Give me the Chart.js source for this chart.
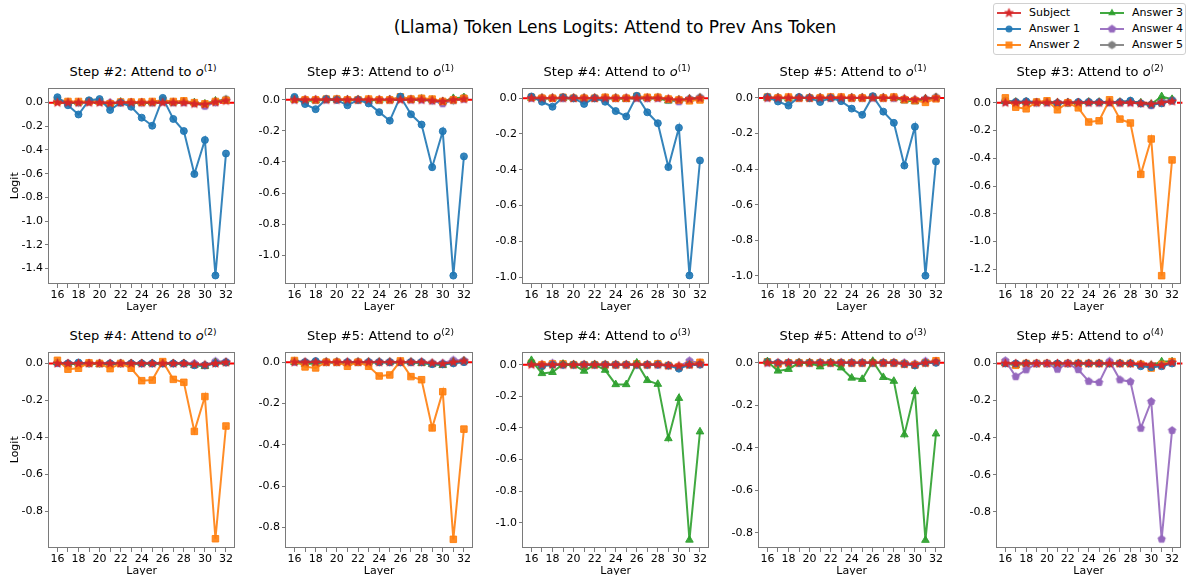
<!DOCTYPE html>
<html>
<head>
<meta charset="utf-8">
<script src="https://cdn.jsdelivr.net/npm/chart.js@4.4.1/dist/chart.umd.min.js"></script>
<style>
  html, body { margin: 0; padding: 0; background: #fff; }
  body { width: 1187px; height: 575px; position: relative; overflow: hidden;
         font-family: "DejaVu Sans", sans-serif; color: #000; }
  canvas.panel { position: absolute; }
  .ptitle { position: absolute; font-size: 13px; white-space: nowrap; transform: translate(-50%, -50%); line-height: 1; }
  .ptitle sup { font-size: 9px; vertical-align: 5px; line-height: 0; }
  #mainTitle { position: absolute; left: 615px; top: 27px; transform: translate(-50%, -50%);
               font-size: 17px; white-space: nowrap; }
  #legend { position: absolute; left: 993px; top: 3px; width: 191px; height: 50px;
            border: 1px solid #d0d0d0; border-radius: 3px; background: #fff; }
  .lg { position: absolute; font-size: 11px; white-space: nowrap; line-height: 1; }
  .lg canvas { position: absolute; }
</style>
</head>
<body>
<div id="mainTitle">(Llama) Token Lens Logits: Attend to Prev Ans Token</div>
<div id="legend"></div>
<script>
// Layers on the x axis
const layers = [16, 17, 18, 19, 20, 21, 22, 23, 24, 25, 26, 27, 28, 29, 30, 31, 32];

// One panel per (step, attended answer)
const stepNums   = [2, 3, 4, 5, 3, 4, 5, 4, 5, 5];
const attendIdx  = [1, 1, 1, 1, 2, 2, 2, 3, 3, 4];

// y-axis limits of each panel
const yLow  = [-1.532, -1.186, -1.038, -1.045, -1.306, -0.997, -0.899, -1.160, -0.872, -0.995];
const yHigh = [ 0.127,  0.079,  0.059,  0.058,  0.109,  0.064,  0.051,  0.083,  0.053,  0.064];

// Logit change per layer; one row per panel
const subject = [
  [0, 0, 0, 0, 0, -0.005, 0, 0, 0, 0, 0, 0, 0, -0.01, -0.015, 0.005, 0.015],
  [0, 0, 0, 0, 0, 0, 0, 0, 0, 0, 0, 0, 0, -0.005, -0.01, 0, 0.005],
  [0, 0, 0, 0, 0, 0, 0, 0, 0, 0, 0, 0, 0, -0.005, -0.01, -0.005, 0],
  [0, 0, 0, 0, 0, 0, 0, 0, 0, 0, 0, 0, 0, -0.005, -0.01, -0.005, 0],
  [0, 0, 0, 0, 0, 0, 0, 0, 0, 0, 0, 0, 0, -0.005, -0.01, 0, 0.01],
  [0, 0, 0, 0, 0, 0, 0, 0, 0, 0, 0, 0, 0, -0.005, -0.008, 0, 0.005],
  [0, 0, 0, 0, 0, 0, 0, 0, 0, 0, 0, 0, 0, -0.005, -0.008, 0, 0.005],
  [0, 0, 0, 0, 0, 0, 0, 0, 0, 0, 0, 0, 0, -0.005, -0.008, 0, 0.005],
  [0, 0, 0, 0, 0, 0, 0, 0, 0, 0, 0, 0, 0, -0.005, -0.008, 0, 0.005],
  [0, 0, 0, 0, 0, 0, 0, 0, 0, 0, 0, 0, 0, -0.005, -0.008, -0.01, 0.005]
];
const answer1 = [
  [0.046, -0.022, -0.1, 0.02, 0.03, -0.062, 0, -0.035, -0.127, -0.195, 0.04, -0.138, -0.24, -0.603, -0.316, -1.46, -0.43],
  [0.019, -0.027, -0.06, 0.005, 0, -0.035, 0, -0.023, -0.079, -0.134, 0.021, -0.093, -0.159, -0.434, -0.202, -1.132, -0.364],
  [0.009, -0.02, -0.048, 0.005, 0, -0.032, 0, -0.02, -0.072, -0.102, 0.013, -0.079, -0.14, -0.385, -0.165, -0.99, -0.348],
  [0.005, -0.02, -0.043, 0.005, 0, -0.023, 0, -0.018, -0.06, -0.095, 0.01, -0.077, -0.14, -0.38, -0.162, -0.998, -0.357],
  [0.015, 0.005, 0.01, 0.005, 0.005, -0.005, 0, 0.005, 0.005, 0.005, 0.005, 0.005, 0.015, -0.005, -0.015, -0.005, 0.015],
  [0.005, 0, 0.005, 0, 0, 0, 0, 0, 0, 0, 0, 0, 0, -0.01, -0.01, 0, 0.005],
  [0.005, 0, 0.005, 0, 0, 0, 0, 0, 0, 0, 0, 0, 0, -0.01, -0.01, -0.005, 0],
  [0.01, -0.01, 0, 0, 0, 0, 0, 0, 0, 0, 0, 0, 0, -0.005, -0.025, 0, 0],
  [0.005, 0, 0, 0, 0, 0, 0, 0, 0, 0, 0, 0, 0, -0.005, -0.012, 0, 0],
  [0, 0, 0, 0, 0, 0, 0, 0, 0, 0, 0, 0, 0, -0.015, -0.02, -0.015, 0]
];
const answer2 = [
  [0.01, 0.01, 0.01, 0.01, 0.01, -0.01, 0.005, 0.005, 0.005, 0.01, 0.02, 0.01, 0.015, 0, -0.01, 0.01, 0.02],
  [0.005, 0, 0, 0.005, 0.005, 0, 0, 0.005, 0, 0, 0.02, 0.005, 0.01, 0.005, -0.01, 0, 0.01],
  [0.005, 0, 0, 0.005, 0, 0, 0, 0.005, 0, 0, 0.01, 0.005, 0.005, -0.005, -0.01, -0.015, -0.01],
  [0.005, 0, 0.005, 0, 0, 0, 0.005, 0.005, 0, 0, 0.005, 0, 0.005, -0.01, -0.015, -0.025, -0.005],
  [0.035, -0.032, -0.044, 0.005, 0.014, -0.051, 0, -0.037, -0.139, -0.13, 0.021, -0.118, -0.146, -0.516, -0.261, -1.246, -0.412],
  [0.017, -0.031, -0.026, 0.003, 0, -0.028, 0, -0.026, -0.093, -0.09, 0.01, -0.086, -0.102, -0.367, -0.179, -0.947, -0.338],
  [0.008, -0.023, -0.028, 0, 0, -0.02, 0, -0.02, -0.067, -0.062, 0.006, -0.07, -0.085, -0.318, -0.143, -0.857, -0.324],
  [0.01, 0, 0.005, 0.005, 0, 0, 0, 0, 0, 0, 0.005, 0, 0.005, -0.005, -0.015, 0, 0.015],
  [0.005, -0.005, 0, 0, 0, 0, 0, 0, 0, 0, 0, 0, 0, -0.005, -0.01, 0, 0.01],
  [0.005, -0.01, 0, 0, 0, -0.005, 0, 0, 0, 0, 0, 0, 0, -0.005, -0.025, -0.005, 0.01]
];
const answer3 = [
  [0.01, 0, 0, 0.01, 0.005, -0.015, 0.005, 0, 0, 0, 0.01, 0, 0.01, 0, -0.01, 0.015, 0.02],
  [0, -0.005, -0.005, 0, 0, 0, 0, 0, -0.005, 0, 0.01, 0, 0.005, 0, -0.01, 0.01, 0.015],
  [0, 0, 0, 0, 0, 0, 0, 0, 0, -0.005, 0.005, 0, 0, -0.015, -0.01, -0.005, 0],
  [0, 0, -0.005, 0, 0, 0, 0, 0, 0, 0, 0, 0, 0, -0.015, -0.02, -0.005, 0],
  [0.01, 0.005, 0.005, 0, 0.005, 0, 0, 0, 0.005, 0.005, 0.005, 0.005, 0.01, 0, -0.01, 0.045, 0.025],
  [0.005, -0.005, 0, 0, -0.005, -0.005, 0, 0, 0, 0, 0, 0, 0, -0.01, -0.015, 0.005, 0.005],
  [0, -0.01, -0.005, 0, 0, -0.005, 0, 0, 0, 0, 0, 0, -0.005, -0.01, -0.015, 0, 0.005],
  [0.028, -0.055, -0.048, 0.004, 0, -0.04, 0, -0.034, -0.125, -0.125, 0.012, -0.099, -0.123, -0.467, -0.212, -1.109, -0.424],
  [0.006, -0.038, -0.03, 0, 0, -0.018, 0, -0.023, -0.071, -0.077, 0.008, -0.068, -0.086, -0.338, -0.135, -0.835, -0.334],
  [0, -0.01, 0, 0, 0, -0.01, 0, 0, 0, 0, 0, 0, 0, -0.005, -0.01, 0.01, 0.01]
];
const answer4 = [
  [0.01, 0, 0, 0.005, 0.005, 0, 0, 0, 0, 0, 0.005, 0, 0, -0.005, -0.03, 0, 0.02],
  [0, 0, 0, 0, 0, 0, 0, 0, 0, 0, 0.005, 0, 0, -0.005, -0.025, 0, 0.005],
  [0, 0, 0, 0, 0, 0, 0, 0, 0, 0, 0, 0, 0, -0.01, -0.02, -0.005, 0],
  [0, 0, 0, 0, 0, 0, 0, 0, 0, 0, 0, 0, 0, -0.01, -0.015, -0.005, 0],
  [0.005, 0, 0.005, 0, 0, 0, 0, 0, 0, 0, 0, 0, 0, -0.005, -0.02, 0.005, 0.015],
  [0, 0, 0, 0, 0, 0, 0, 0, 0, 0, 0, 0, 0, 0, -0.01, 0.012, 0.01],
  [0, 0, 0, 0, 0, 0, 0, 0, 0, 0, 0, 0, 0, -0.005, -0.005, 0.01, 0.008],
  [0.005, 0, 0.01, 0, 0, 0, 0, 0, 0, 0, 0, 0, 0, -0.005, -0.01, 0.025, 0.01],
  [0, 0, 0, 0, 0, 0, 0, 0, 0, 0, 0, 0, 0, 0, -0.005, 0.008, 0.005],
  [0.015, -0.071, -0.034, 0, 0, -0.031, 0, -0.033, -0.096, -0.102, 0.012, -0.088, -0.098, -0.349, -0.205, -0.947, -0.361]
];
const answer5 = [
  [0.03, 0.005, 0, 0.01, 0.01, -0.01, 0.005, 0, 0, 0, 0.02, 0.005, 0.01, -0.005, -0.02, 0.005, 0.03],
  [0.01, 0, 0, 0.005, 0.005, 0, 0, 0, 0, 0, 0.015, 0.005, 0.01, -0.005, -0.015, -0.005, 0.015],
  [0.005, 0, 0, 0, 0, 0, 0, 0, 0, 0, 0.005, 0, 0.005, -0.005, -0.01, -0.005, 0.005],
  [0.005, 0, 0, 0, 0, 0, 0, 0, 0, 0, 0.005, 0, 0, -0.005, -0.01, -0.01, 0.005],
  [0.015, 0.005, 0.005, 0, 0.005, 0, 0, 0, 0.005, 0, 0.005, 0, 0.01, -0.005, -0.015, 0.01, 0.02],
  [0.005, 0, 0, 0, 0, 0, 0, 0, 0, 0, 0, 0, 0, -0.005, -0.01, 0.005, 0.005],
  [0.005, 0, 0, 0, 0, 0, 0, 0, 0, 0, 0, 0, 0, -0.005, -0.01, -0.005, 0.005],
  [0.01, -0.005, 0, 0, 0, 0, 0, 0, 0, 0, 0, 0, 0.005, -0.005, -0.015, 0.005, 0.01],
  [0.005, -0.005, 0, 0, 0, 0, 0, 0, 0, 0, 0, 0, 0, -0.005, -0.01, 0, 0.005],
  [0.005, -0.005, 0, 0, 0, 0, 0, 0, 0, 0, 0, 0, 0, -0.005, -0.01, -0.005, 0.005]
];

// ---- page geometry of the 2 x 5 grid of plot areas ----
const colLeft  = [49, 286, 523, 759, 997];
const colWidth = [188, 189, 188, 188, 186];
const rowTop   = [79, 343];
const plotH    = 205;
const Y_AXIS_W = 49;
const X_AXIS_H = 32;
const PAD_R    = 3;
const FRAME    = '#7a7a7a';

Chart.defaults.font.family = '"DejaVu Sans", sans-serif';
Chart.defaults.font.size = 11;
Chart.defaults.color = '#000';

function rgba(hex, a) {
  const n = parseInt(hex.slice(1), 16);
  return `rgba(${n >> 16},${(n >> 8) & 255},${n & 255},${a})`;
}

// filled polygon / star marker images
function polyMarker(color, sides, r, innerRatio) {
  const s = Math.ceil(2 * r + 3);
  const c = document.createElement('canvas');
  c.width = c.height = s;
  const g = c.getContext('2d');
  const cx = s / 2, cy = s / 2;
  const n = innerRatio ? sides * 2 : sides;
  g.beginPath();
  for (let i = 0; i < n; i++) {
    const a = -Math.PI / 2 + i * 2 * Math.PI / n;
    const rr = innerRatio && (i % 2) ? r * innerRatio : r;
    const px = cx + rr * Math.cos(a), py = cy + rr * Math.sin(a);
    i ? g.lineTo(px, py) : g.moveTo(px, py);
  }
  g.closePath();
  g.fillStyle = color;
  g.fill();
  g.strokeStyle = color;
  g.lineWidth = 0.8;
  g.stroke();
  return c;
}

const SERIES = [
  { label: 'Subject',  rows: subject, color: '#d62728', style: () => polyMarker('#d62728', 5, 4.6, 0.42), radius: 4 },
  { label: 'Answer 1', rows: answer1, color: '#1f77b4', style: () => 'circle',   radius: 3.5 },
  { label: 'Answer 2', rows: answer2, color: '#ff7f0e', style: () => 'rect',     radius: 4.6 },
  { label: 'Answer 3', rows: answer3, color: '#2ca02c', style: () => 'triangle', radius: 4.4 },
  { label: 'Answer 4', rows: answer4, color: '#9467bd', style: () => polyMarker('#9467bd', 5, 3.9), radius: 4 },
  { label: 'Answer 5', rows: answer5, color: '#7f7f7f', style: () => polyMarker('#7f7f7f', 6, 3.7), radius: 4 }
];

// frame around the plot area (all four spines)
const framePlugin = {
  id: 'frame',
  afterDraw(chart) {
    const a = chart.chartArea, g = chart.ctx;
    g.save();
    g.strokeStyle = FRAME;
    g.lineWidth = 1;
    g.strokeRect(Math.round(a.left) - 0.5, Math.round(a.top) + 0.5,
                 Math.round(a.right - a.left) + 1, Math.round(a.bottom - a.top) - 1);
    g.restore();
  }
};

// dashed red reference line at logit = 0
const zeroLinePlugin = {
  id: 'zeroLine',
  beforeDatasetsDraw(chart) {
    const a = chart.chartArea, g = chart.ctx;
    const y = chart.scales.y.getPixelForValue(0);
    g.save();
    g.strokeStyle = '#ff0000';
    g.lineWidth = 2;
    g.setLineDash([6, 3]);
    g.beginPath();
    g.moveTo(a.left, y);
    g.lineTo(a.right + 2, y);
    g.stroke();
    g.restore();
  }
};

const xPad = (layers[layers.length - 1] - layers[0]) * 0.05;

function fmtTick(v) {
  if (Math.abs(v) < 1e-9) return '0.0';
  return v.toFixed(1);
}

function addPanel(p) {
  const row = p < 5 ? 0 : 1;
  const col = p % 5;
  const cv = document.createElement('canvas');
  cv.className = 'panel';
  const w = Y_AXIS_W + colWidth[col] + PAD_R;
  const h = plotH + X_AXIS_H;
  cv.width = w; cv.height = h;
  cv.style.width = w + 'px'; cv.style.height = h + 'px';
  cv.style.left = (colLeft[col] - Y_AXIS_W) + 'px';
  cv.style.top = rowTop[row] + 'px';
  document.body.appendChild(cv);

  const t = document.createElement('div');
  t.className = 'ptitle';
  t.innerHTML = `Step #${stepNums[p]}: Attend to <i>o</i><sup>(${attendIdx[p]})</sup>`;
  t.style.left = (colLeft[col] + colWidth[col] / 2) + 'px';
  t.style.top = (rowTop[row] - 8) + 'px';
  document.body.appendChild(t);

  const datasets = SERIES.map((s, k) => ({
    label: s.label,
    data: s.rows[p].map((v, i) => ({ x: layers[i], y: v })),
    borderColor: rgba(s.color, 0.9),
    backgroundColor: rgba(s.color, 0.9),
    pointBackgroundColor: rgba(s.color, 0.9),
    pointBorderColor: rgba(s.color, 0.9),
    pointBorderWidth: 1,
    pointStyle: s.style(),
    pointRadius: s.radius,
    borderWidth: 2,
    tension: 0,
    order: k === 0 ? 0 : (k === attendIdx[p] ? 1 : k + 1)
  }));

  new Chart(cv, {
    type: 'line',
    data: { datasets },
    plugins: [zeroLinePlugin, framePlugin],
    options: {
      responsive: false,
      animation: false,
      devicePixelRatio: 1,
      layout: { padding: { left: 0, top: 0, right: PAD_R, bottom: 0 } },
      plugins: { legend: { display: false }, tooltip: { enabled: false }, title: { display: false } },
      scales: {
        x: {
          type: 'linear',
          min: layers[0] - xPad,
          max: layers[layers.length - 1] + xPad,
          afterFit: (s) => { s.height = X_AXIS_H; },
          border: { display: false },
          grid: { drawOnChartArea: false, drawTicks: true, tickLength: 4, color: FRAME },
          ticks: {
            stepSize: 1, includeBounds: false, autoSkip: false, maxRotation: 0, padding: 1,
            callback: (v) => (v % 2 === 0 ? String(v) : '')
          },
          title: { display: true, text: 'Layer', padding: { top: 0, bottom: 2 }, font: { size: 11 } }
        },
        y: {
          type: 'linear',
          min: yLow[p],
          max: yHigh[p],
          afterFit: (s) => { s.width = Y_AXIS_W; },
          border: { display: false },
          grid: { drawOnChartArea: false, drawTicks: true, tickLength: 4, color: FRAME },
          ticks: { stepSize: 0.2, includeBounds: false, padding: 2, callback: fmtTick },
          title: { display: col === 0, text: 'Logit', padding: { top: 9, bottom: 0 }, font: { size: 11 } }
        }
      }
    }
  });
}

for (let p = 0; p < 10; p++) addPanel(p);

// figure legend, two columns
(function buildLegend() {
  const box = document.getElementById('legend');
  const order = [0, 1, 2, 3, 4, 5];
  order.forEach((k, idx) => {
    const s = SERIES[k];
    const col = idx < 3 ? 0 : 1;
    const row = idx % 3;
    const item = document.createElement('div');
    item.className = 'lg';
    item.style.left = (col === 0 ? 2 : 105) + 'px';
    item.style.top = (row * 16 + 1) + 'px';
    item.style.width = '88px';
    item.style.height = '16px';
    const c = document.createElement('canvas');
    c.width = 26; c.height = 16;
    c.style.left = '0px'; c.style.top = '0px';
    const g = c.getContext('2d');
    g.strokeStyle = rgba(s.color, 0.9);
    g.lineWidth = 2;
    g.beginPath(); g.moveTo(1, 8); g.lineTo(25, 8); g.stroke();
    const st = s.style();
    g.fillStyle = rgba(s.color, 0.9);
    if (st === 'circle') { g.beginPath(); g.arc(13, 8, 3.5, 0, Math.PI * 2); g.fill(); }
    else if (st === 'rect') { g.fillRect(9.5, 4.5, 7, 7); }
    else if (st === 'triangle') {
      g.beginPath(); g.moveTo(13, 3.6); g.lineTo(16.8, 10.2); g.lineTo(9.2, 10.2); g.closePath(); g.fill();
    } else { g.drawImage(st, 13 - st.width / 2, 8 - st.height / 2); }
    item.appendChild(c);
    const tx = document.createElement('span');
    tx.textContent = s.label;
    tx.style.position = 'absolute';
    tx.style.left = '33px';
    tx.style.top = '2px';
    item.appendChild(tx);
    box.appendChild(item);
  });
})();
</script>
</body>
</html>
